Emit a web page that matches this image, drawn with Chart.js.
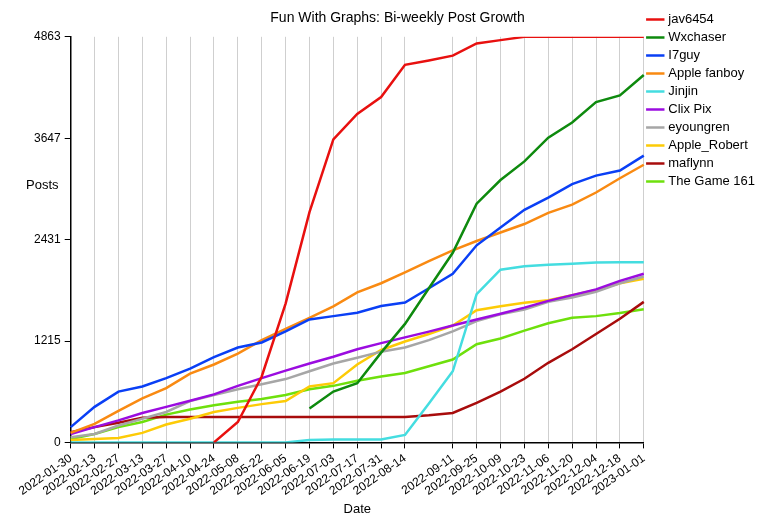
<!DOCTYPE html>
<html>
<head>
<meta charset="utf-8">
<script src="https://cdn.jsdelivr.net/npm/chart.js@4/dist/chart.umd.min.js"></script>
<style>
  html, body { margin: 0; padding: 0; background: #fff; }
  #wrap { width: 775px; height: 525px; }
</style>
</head>
<body>
<div id="wrap"><canvas id="myChartPosts" width="775" height="525"></canvas></div>
<script>
const dates = ["2022-01-30","2022-02-13","2022-02-27","2022-03-13","2022-03-27","2022-04-10","2022-04-24","2022-05-08","2022-05-22","2022-06-05","2022-06-19","2022-07-03","2022-07-17","2022-07-31","2022-08-14","","2022-09-11","2022-09-25","2022-10-09","2022-10-23","2022-11-06","2022-11-20","2022-12-04","2022-12-18","2023-01-01"];
const yTicks = [0, 1215, 2431, 3647, 4863];

const jav6454 = [null,null,null,null,null,null,0,244,790,1665,2760,3633,3938,4141,4527,4580,4637,4783,4823,4863,4863,4863,4863,4863,4863];
const wxchaser = [null,null,null,null,null,null,null,null,null,null,406,609,710,1076,1421,1848,2273,2862,3146,3369,3653,3836,4080,4161,4405];
const i7guy = [183,426,609,670,771,885,1023,1137,1198,1332,1474,1514,1555,1636,1677,1848,2022,2363,2578,2789,2935,3097,3199,3260,3438];
const appleFanboy = [114,223,378,528,650,824,934,1064,1226,1360,1494,1632,1798,1908,2038,2172,2302,2415,2517,2618,2752,2850,2996,3167,3329];
const jinjin = [0,0,0,0,0,0,0,0,0,0,28,36,36,36,89,467,853,1778,2071,2111,2131,2143,2156,2160,2160];
const clixPix = [101,183,264,353,426,499,576,678,771,861,946,1027,1117,1190,1259,1328,1401,1474,1543,1616,1697,1766,1835,1937,2022];
const eyoungren = [61,101,203,284,365,495,568,637,698,759,853,946,1015,1088,1137,1226,1332,1454,1535,1592,1685,1738,1807,1908,1989];
const appleRobert = [28,41,53,114,215,284,365,414,459,495,670,710,934,1108,1210,1299,1401,1584,1632,1673,1705,1766,1827,1908,1961];
const maflynn = [122,183,235,296,304,304,304,304,304,304,304,304,304,304,304,325,353,475,609,763,954,1117,1299,1482,1685];
const theGame161 = [41,101,183,244,333,394,446,487,520,568,637,678,739,791,832,913,994,1177,1246,1340,1429,1494,1514,1551,1596];

const series = [
  ["jav6454", jav6454, "#e8100f"],
  ["Wxchaser", wxchaser, "#0e8a0e"],
  ["I7guy", i7guy, "#0a3ff5"],
  ["Apple fanboy", appleFanboy, "#f98a12"],
  ["Jinjin", jinjin, "#44dde0"],
  ["Clix Pix", clixPix, "#9b0ce0"],
  ["eyoungren", eyoungren, "#a6a6a6"],
  ["Apple_Robert", appleRobert, "#fdcb06"],
  ["maflynn", maflynn, "#a80c0c"],
  ["The Game 161", theGame161, "#6ee00c"],
];

const FONT = "'Liberation Sans', Arial, sans-serif";
Chart.defaults.font.family = FONT;
Chart.defaults.color = "#000";

const postsLabel = {
  id: "postsLabel",
  afterDraw(chart) {
    const c = chart.ctx;
    c.save();
    c.font = "13px " + FONT;
    c.fillStyle = "#000";
    c.textAlign = "left";
    c.textBaseline = "middle";
    c.fillText("Posts", 26, 185);
    c.restore();
  }
};

new Chart(document.getElementById("myChartPosts"), {
  type: "line",
  data: {
    labels: dates,
    datasets: series.map(([name, data, color]) => ({
      label: name,
      data: data,
      borderColor: color,
      backgroundColor: color,
      borderWidth: 2.5,
      pointRadius: 0,
      tension: 0,
      spanGaps: false,
    })),
  },
  options: {
    responsive: false,
    animation: false,
    devicePixelRatio: 1,
    layout: { padding: { left: 30, right: 10, top: 8, bottom: 4 } },
    scales: {
      x: {
        offset: false,
        border: { color: "#000", width: 1.5 },
        grid: {
          color: (ctx) => (ctx.index === 15 ? "rgba(0,0,0,0)" : "#cfcfcf"),
          tickColor: (ctx) => (ctx.index === 15 ? "rgba(0,0,0,0)" : "#000"),
          tickLength: 6,
          lineWidth: 1,
        },
        ticks: { autoSkip: false, maxRotation: 35, minRotation: 35, font: { size: 12 } },
        title: { display: true, text: "Date", font: { size: 13 }, padding: { top: 0 } },
      },
      y: {
        min: 0,
        max: 4863,
        border: { color: "#000", width: 1.5 },
        afterBuildTicks: (axis) => { axis.ticks = yTicks.map((v) => ({ value: v })); },
        grid: { drawOnChartArea: false, tickLength: 6, tickColor: "#000" },
        ticks: { font: { size: 12 }, padding: 4, callback: (v) => String(v) },
      },
    },
    plugins: {
      title: { display: true, text: "Fun With Graphs: Bi-weekly Post Growth", font: { size: 14, weight: "normal" }, padding: { top: 2, bottom: 10 } },
      legend: {
        position: "right",
        align: "start",
        labels: { usePointStyle: true, pointStyle: "line", boxWidth: 22, padding: 5, font: { size: 13 } },
      },
      tooltip: { enabled: false },
    },
  },
  plugins: [postsLabel],
});
</script>
</body>
</html>
